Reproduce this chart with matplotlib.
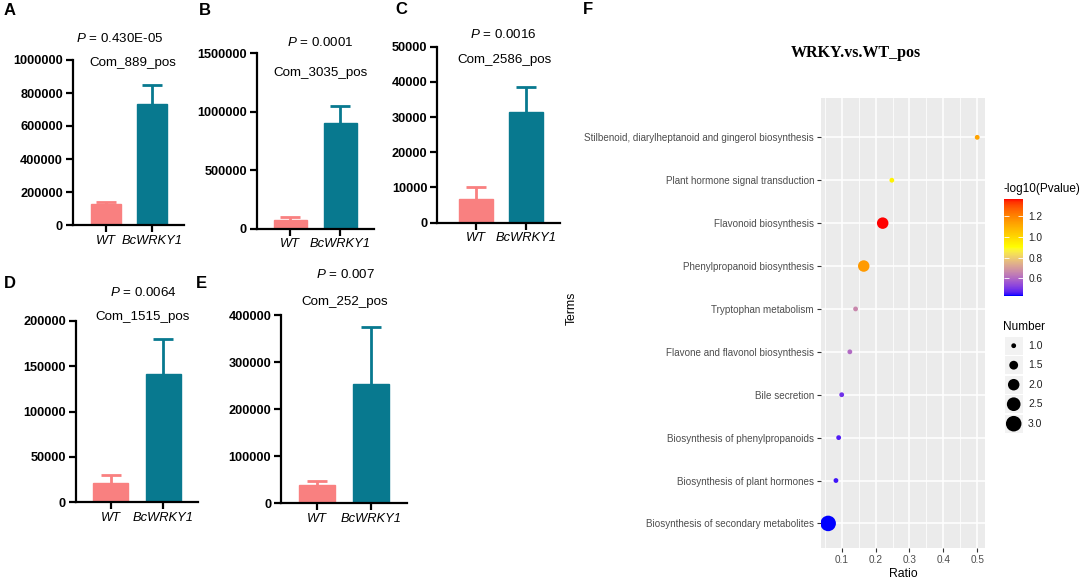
import numpy as np
import matplotlib
matplotlib.use("Agg")
import matplotlib.pyplot as plt
from matplotlib.colors import ListedColormap, Normalize
from matplotlib.cm import ScalarMappable
from matplotlib.patches import Rectangle

plt.rcParams['font.family'] = ['Liberation Sans', 'DejaVu Sans']
plt.rcParams['mathtext.fontset'] = 'custom'
plt.rcParams['mathtext.it'] = 'Liberation Sans:italic'
plt.rcParams['mathtext.rm'] = 'Liberation Sans'

# ---------------- data ----------------
groups = ["WT", "BcWRKY1"]
compounds = ["Com_889_pos", "Com_3035_pos", "Com_2586_pos", "Com_1515_pos", "Com_252_pos"]
p_labels = ["0.430E-05", "0.0001", "0.0016", "0.0064", "0.007"]
panel_letters = ["A", "B", "C", "D", "E"]
means_wt = [125000, 71000, 6630, 21500, 39000]
err_wt = [12000, 26000, 3500, 8800, 9200]
means_bc = [732000, 907000, 31530, 141200, 253200]
err_bc = [117000, 145000, 7110, 39100, 120600]
y_max = [1000000, 1500000, 50000, 200000, 400000]
y_step = [200000, 500000, 10000, 50000, 100000]

terms = ["Biosynthesis of secondary metabolites", "Biosynthesis of plant hormones",
         "Biosynthesis of phenylpropanoids", "Bile secretion",
         "Flavone and flavonol biosynthesis", "Tryptophan metabolism",
         "Phenylpropanoid biosynthesis", "Flavonoid biosynthesis",
         "Plant hormone signal transduction",
         "Stilbenoid, diarylheptanoid and gingerol biosynthesis"]
ratio = [0.06, 0.083, 0.091, 0.1, 0.124, 0.141, 0.165, 0.221, 0.248, 0.5]
number = [3, 1, 1, 1, 1, 1, 2, 2, 1, 1]
neglogp = [0.43, 0.45, 0.46, 0.49, 0.60, 0.66, 1.15, 1.37, 0.93, 1.13]
number_legend = [1.0, 1.5, 2.0, 2.5, 3.0]
cbar_ticks = [0.6, 0.8, 1.0, 1.2]

# ---------------- layout (pixels) ----------------
W, H = 1084, 578
fig = plt.figure(figsize=(W / 100, H / 100), dpi=100)

def box(l, t, r, b):
    return [l / W, 1 - b / H, (r - l) / W, (b - t) / H]

# left, top, right, bottom, centre WT, centre Bc, bar width
bar_layout = [
    (72.7, 60.0, 184.0, 225.0, 105.7, 151.7, 30.0),
    (256.7, 53.3, 374.0, 228.7, 290.0, 340.0, 33.0),
    (437.0, 46.7, 560.0, 222.7, 476.0, 526.0, 33.3),
    (75.7, 320.7, 198.0, 502.3, 110.8, 163.3, 35.0),
    (281.0, 315.0, 407.0, 503.3, 317.0, 371.0, 36.0),
]
p_pos = [(120, 39), (320, 43), (503, 35), (143, 292), (345, 275)]
com_pos = [(133, 63), (320, 73), (505, 60), (143, 317), (345, 302)]
letter_pos = [(9.5, 10.5), (205, 10.5), (401, 10), (10, 284), (201, 284)]

col_wt = "#F98080"
col_bc = "#08798F"

for i in range(5):
    l, t, r, b, c1, c2, bw = bar_layout[i]
    s = c2 - c1
    ax = fig.add_axes(box(l, t, r, b))
    ax.set_facecolor('none')
    xs = [0, 1]
    ax.bar(xs, [means_wt[i], means_bc[i]], width=bw / s,
           color=[col_wt, col_bc], edgecolor=[col_wt, col_bc], zorder=2)
    for x, m, e, c in [(0, means_wt[i], err_wt[i], col_wt), (1, means_bc[i], err_bc[i], col_bc)]:
        eb = ax.errorbar([x], [m], yerr=[[0], [e]], fmt='none', ecolor=c,
                         elinewidth=2.0, capsize=7, capthick=2.0, zorder=1)
        eb[1][0].set_visible(False)
    ax.set_xlim((l - c1) / s, (r - c1) / s)
    ax.set_ylim(0, y_max[i])
    ax.set_yticks(np.arange(0, y_max[i] + 1, y_step[i]))
    ax.set_yticklabels([f"{int(v)}" for v in np.arange(0, y_max[i] + 1, y_step[i])],
                       fontweight='bold', fontsize=9.2)
    ax.set_xticks(xs)
    ax.set_xticklabels(groups, fontstyle='italic', fontsize=9.3)
    for sp in ['top', 'right']:
        ax.spines[sp].set_visible(False)
    for sp in ['left', 'bottom']:
        ax.spines[sp].set_linewidth(1.6)
        ax.spines[sp].set_capstyle('projecting')
    ax.tick_params(length=5, width=1.6, pad=2)

# ---------------- panel F ----------------
M = np.array([[0.4124, 0.3576, 0.1805], [0.2126, 0.7152, 0.0722], [0.0193, 0.1192, 0.9505]])
WHITE = np.array([0.95047, 1.0, 1.08883])

def srgb_to_lab(rgb):
    c = np.asarray(rgb, float)
    lin = np.where(c <= 0.04045, c / 12.92, ((c + 0.055) / 1.055) ** 2.4)
    xyz = M @ lin / WHITE
    f = np.where(xyz > 0.008856, np.cbrt(xyz), 7.787 * xyz + 16 / 116)
    return np.array([116 * f[1] - 16, 500 * (f[0] - f[1]), 200 * (f[1] - f[2])])

def lab_to_srgb(lab):
    L, a, bb = lab
    fy = (L + 16) / 116
    f = np.array([fy + a / 500, fy, fy - bb / 200])
    xyz = np.where(f ** 3 > 0.008856, f ** 3, (f - 16 / 116) / 7.787) * WHITE
    lin = np.clip(np.linalg.solve(M, xyz), 0, 1)
    return np.where(lin <= 0.0031308, 12.92 * lin, 1.055 * lin ** (1 / 2.4) - 0.055)

lab_blue = srgb_to_lab([0, 0, 1])
lab_yel = srgb_to_lab([1, 1, 0])
lab_red = srgb_to_lab([1, 0, 0])
cols = []
for tt in np.linspace(0, 1, 256):
    if tt <= 0.5:
        lab = lab_blue + (lab_yel - lab_blue) * (tt / 0.5)
    else:
        lab = lab_yel + (lab_red - lab_yel) * ((tt - 0.5) / 0.5)
    cols.append(np.clip(lab_to_srgb(lab), 0, 1))
cmap = ListedColormap(cols)
norm = Normalize(vmin=min(neglogp), vmax=max(neglogp))

def size_of(n):
    return 12 + (np.asarray(n, float) - 1) / 2.0 * (125 - 12)

axf = fig.add_axes(box(820.7, 98.3, 985.0, 548.3))
axf.set_facecolor('#EBEBEB')
for sp in axf.spines.values():
    sp.set_visible(False)
ypos = np.arange(len(terms))
axf.scatter(ratio, ypos, s=size_of(number), c=neglogp, cmap=cmap, norm=norm,
            edgecolors='none', zorder=3)
axf.set_xlim(0.038, 0.523)
axf.set_ylim(-0.58, len(terms) - 1 + 0.91)
axf.set_xticks([0.1, 0.2, 0.3, 0.4, 0.5])
axf.set_xticklabels(["0.1", "0.2", "0.3", "0.4", "0.5"])
axf.set_xticks([0.05, 0.15, 0.25, 0.35, 0.45], minor=True)
axf.set_yticks(ypos)
axf.set_yticklabels(terms)
axf.grid(True, which='major', color='white', linewidth=1.1, zorder=0)
axf.grid(True, which='minor', axis='x', color='white', linewidth=0.55, zorder=0)
axf.set_axisbelow(True)
axf.tick_params(which='major', length=2.8, width=0.8, color='#333333',
                labelsize=7.1, labelcolor='#4D4D4D', pad=2)
axf.tick_params(axis='x', which='major', labelsize=7.2)
axf.tick_params(which='minor', length=0)
axf.set_xlabel("Ratio", fontsize=8.8, labelpad=2)

cax = fig.add_axes(box(1004.3, 199.0, 1022.7, 295.7))
cb = fig.colorbar(ScalarMappable(norm=norm, cmap=cmap), cax=cax, ticks=cbar_ticks)
cb.outline.set_visible(False)
cax.tick_params(left=True, right=True, labelleft=False, labelright=True,
                direction='in', length=3.5, width=0.6, color='white',
                labelsize=7.3, labelcolor='#222222', pad=4)
cb.set_ticklabels([f"{v:.1f}" for v in cbar_ticks])

# overlay for texts and legend
ov = fig.add_axes([0, 0, 1, 1])
ov.set_xlim(0, W)
ov.set_ylim(H, 0)
ov.axis('off')
ov.set_facecolor('none')

for i in range(5):
    ov.text(*p_pos[i], r"$\it{P}$ = " + p_labels[i], ha='center', va='center', fontsize=9.6)
    ov.text(*com_pos[i], compounds[i], ha='center', va='center', fontsize=9.6)
    ov.text(*letter_pos[i], panel_letters[i], ha='center', va='center',
            fontsize=12, fontweight='bold')
ov.text(588, 9, "F", ha='center', va='center', fontsize=12, fontweight='bold')

ov.text(855.7, 52.7, "WRKY.vs.WT_pos", ha='center', va='center', fontsize=11.5,
        fontweight='bold', family=['Liberation Serif', 'DejaVu Serif'])
ov.text(572, 308, "Terms", ha='center', va='center', rotation=90, fontsize=8.8)
ov.text(1003.5, 189.3, "-log10(Pvalue)", ha='left', va='center', fontsize=8.5)
ov.text(1003.5, 326.7, "Number", ha='left', va='center', fontsize=8.5)

key_y = [345.7, 365.2, 384.7, 404.2, 423.7]
for ky, nv in zip(key_y, number_legend):
    ov.add_patch(Rectangle((1005, ky - 9.1), 17.5, 18.2, facecolor='#F2F2F2',
                           edgecolor='none'))
    ov.text(1028, ky, f"{nv:.1f}", ha='left', va='center', fontsize=7.5, color='#222222')
ov.scatter([1013.7] * len(key_y), key_y, s=size_of(number_legend), color='black',
           edgecolors='none', zorder=3)

fig.savefig("out.png", dpi=100)
